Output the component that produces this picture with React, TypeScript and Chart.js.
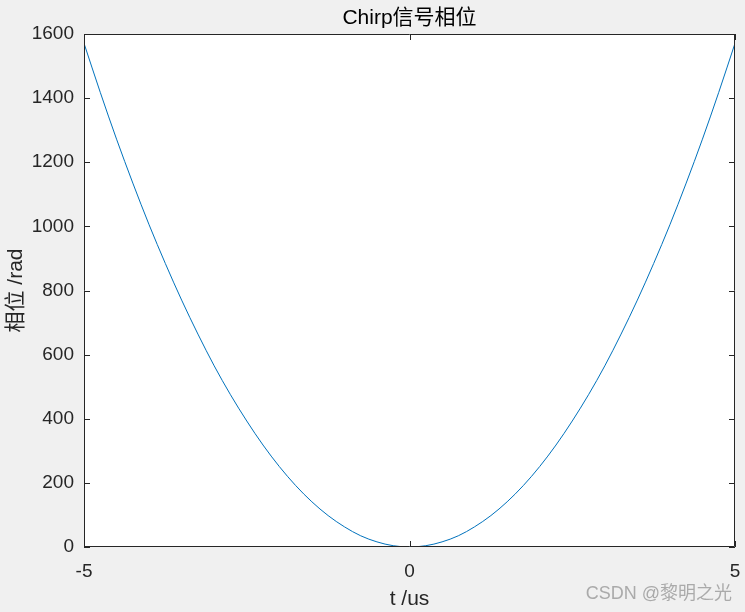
import React, { useEffect, useRef } from "react";
import { Chart, registerables } from "chart.js";

Chart.register(...registerables);

const tValues = [
  -5, -4.75, -4.5, -4.25, -4, -3.75, -3.5, -3.25, -3, -2.75, -2.5, -2.25, -2, -1.75, -1.5, -1.25, -1, -0.75, -0.5, -0.25,
  0, 0.25, 0.5, 0.75, 1, 1.25, 1.5, 1.75, 2, 2.25, 2.5, 2.75, 3, 3.25, 3.5, 3.75, 4, 4.25, 4.5, 4.75, 5,
];
const phaseValues = [
  1571, 1418, 1272, 1135, 1005, 884, 770, 664, 565, 475, 393, 318, 251, 192, 141, 98, 63, 35, 16, 4,
  0, 4, 16, 35, 63, 98, 141, 192, 251, 318, 393, 475, 565, 664, 770, 884, 1005, 1135, 1272, 1418, 1571,
];
const xTicks = [-5, 0, 5];
const titleText = "Chirp信号相位";
const xTitle = "t /us";
const yTitle = "相位 /rad";
const watermark = "CSDN @黎明之光";

const FONT = "Liberation Sans, Arial, Helvetica, sans-serif";
const CJK = "'Liberation Sans', 'Noto Sans CJK SC', sans-serif";
const INK = "#262626";

export default function App() {
  const ref = useRef<HTMLCanvasElement | null>(null);
  useEffect(() => {
    document.body.style.margin = "0";
    const canvas = ref.current!;
    const deco = {
      id: "deco",
      beforeDraw(chart: any) {
        const { ctx } = chart;
        ctx.save();
        ctx.fillStyle = "#f0f0f0";
        ctx.fillRect(0, 0, chart.width, chart.height);
        const a = chart.chartArea;
        ctx.fillStyle = "#ffffff";
        ctx.fillRect(a.left, a.top, a.right - a.left, a.bottom - a.top);
        ctx.restore();
      },
      afterDraw(chart: any) {
        const { ctx } = chart;
        const a = chart.chartArea;
        const xs = chart.scales.x;
        const ys = chart.scales.y;
        ctx.save();
        ctx.strokeStyle = INK;
        ctx.lineWidth = 1;
        ctx.beginPath();
        ctx.rect(Math.round(a.left) + 0.5, Math.round(a.top) + 0.5, Math.round(a.right - a.left) - 1, Math.round(a.bottom - a.top) - 1);
        ctx.stroke();
        const tl = 6;
        ctx.beginPath();
        ys.ticks.forEach((t: any) => {
          const y = Math.round(ys.getPixelForValue(t.value)) + 0.5;
          ctx.moveTo(a.left, y);
          ctx.lineTo(a.left + tl, y);
          ctx.moveTo(a.right, y);
          ctx.lineTo(a.right - tl, y);
        });
        xs.ticks.forEach((t: any) => {
          const x = Math.round(xs.getPixelForValue(t.value)) + 0.5;
          ctx.moveTo(x, a.bottom);
          ctx.lineTo(x, a.bottom - tl);
          ctx.moveTo(x, a.top);
          ctx.lineTo(x, a.top + tl);
        });
        ctx.stroke();

        ctx.fillStyle = "#000000";
        ctx.font = `21px ${CJK}`;
        ctx.textAlign = "center";
        ctx.textBaseline = "middle";
        ctx.fillText(titleText, (a.left + a.right) / 2, 18);

        ctx.fillStyle = INK;
        ctx.font = `21px ${CJK}`;
        ctx.fillText(xTitle, (a.left + a.right) / 2, 599);

        ctx.save();
        ctx.translate(16, (a.top + a.bottom) / 2);
        ctx.rotate(-Math.PI / 2);
        ctx.fillText(yTitle, 0, 0);
        ctx.restore();

        ctx.font = `18px ${CJK}`;
        ctx.textAlign = "right";
        ctx.fillStyle = "#aaaaaa";
        ctx.fillText(watermark, 732, 594);
        ctx.restore();
      },
    };

    const chart = new Chart(canvas, {
      type: "line",
      data: {
        datasets: [
          {
            data: tValues.map((t, i) => ({ x: t, y: phaseValues[i] })),
            borderColor: "#0072BD",
            borderWidth: 1,
            pointRadius: 0,
            cubicInterpolationMode: "monotone",
            fill: false,
          },
        ],
      },
      options: {
        responsive: false,
        animation: false,
        events: [],
        layout: { padding: { top: 34, right: 10, left: 0, bottom: 0 } },
        plugins: { legend: { display: false }, tooltip: { enabled: false }, title: { display: false } },
        scales: {
          x: {
            type: "linear",
            min: -5,
            max: 5,
            afterBuildTicks: (s: any) => {
              s.ticks = xTicks.map((v) => ({ value: v }));
            },
            afterFit: (s: any) => {
              s.height = 65;
              s.paddingLeft = 0;
              s.paddingRight = 0;
            },
            grid: { display: false, drawTicks: false },
            border: { display: false },
            ticks: { color: INK, font: { family: FONT, size: 19 }, padding: 13, maxRotation: 0, callback: (v: any) => String(v) },
          },
          y: {
            min: 0,
            max: 1600,
            afterFit: (s: any) => {
              s.width = 84;
              s.paddingTop = 0;
              s.paddingBottom = 0;
            },
            grid: { display: false, drawTicks: false },
            border: { display: false },
            ticks: { stepSize: 200, color: INK, font: { family: FONT, size: 19 }, padding: 10, callback: (v: any) => String(v) },
          },
        },
      },
      plugins: [deco],
    } as any);
    return () => chart.destroy();
  }, []);
  return (
    <div style={{ position: "absolute", left: 0, top: 0, width: 745, height: 612 }}>
      <canvas ref={ref} width={745} height={612} />
    </div>
  );
}
